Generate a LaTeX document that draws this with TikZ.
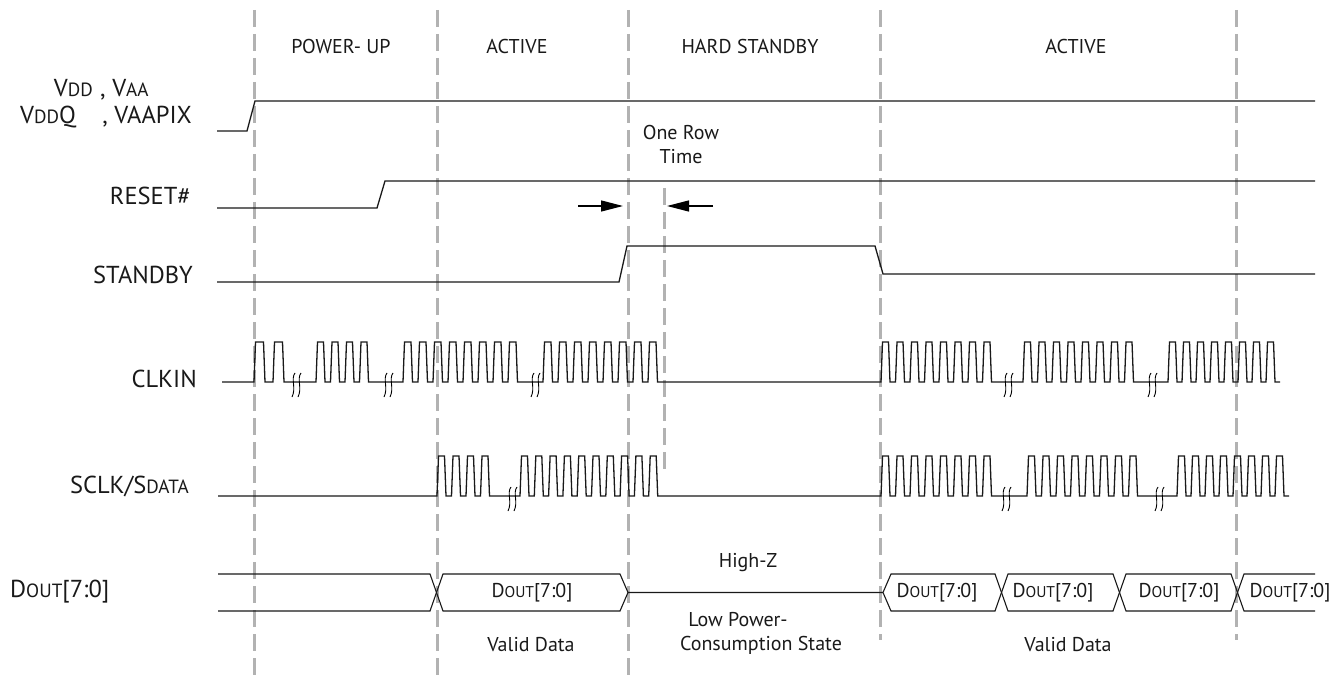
\documentclass[tikz,border=0pt]{standalone}
\usepackage{fontspec}
\setmainfont{PT Sans}
\usepackage{graphicx}
\usetikzlibrary{arrows.meta}
\newcommand\smc[1]{\scalebox{0.78}{#1}}
\newcommand\brkmark[2]{%
  \foreach \dx in {-3,3}{%
    \draw[line width=0.9pt] ({#1+\dx+2},{#2-9}) .. controls ({#1+\dx-2.5},{#2-3}) and ({#1+\dx+3.5},{#2+6}) .. ({#1+\dx-1},{#2+15});
  }}
\tikzset{
  sig/.style={line width=1.3pt, black!90, line join=miter},
  phase/.style={draw=black!30, line width=3pt, dash pattern=on 17pt off 7pt},
  lbl/.style={font=\fontsize{24.5}{28}\selectfont, inner sep=0pt, text=black!90},
  txt/.style={font=\fontsize{20}{24}\selectfont, inner sep=0pt, text=black!90},
  arr/.style={line width=1.3pt, -{Triangle[length=22pt,width=11pt]}}
}
\begin{document}
\begin{tikzpicture}[x=1pt,y=-1pt]
\useasboundingbox (0,0) rectangle (1341,679);
% phase boundaries
\draw[phase] (254,10) -- (254,679);
\draw[phase] (437,10) -- (437,679);
\draw[phase] (628,10) -- (628,679);
\draw[phase] (880,10) -- (880,640);
\draw[phase] (1236,10) -- (1236,640);
\draw[phase] (664,188) -- (664,470);
% phase labels
\node[txt] (p1) at (341,47) {POWER- UP};
\node[txt] (p2) at (517,47) {ACTIVE};
\node[txt] (p3) at (750,47) {HARD STANDBY};
\node[txt] (p4) at (1076,47) {ACTIVE};
% signal labels
\node[lbl, anchor=base east] (l1a) at (93,97) {V\smc{DD}};
\node[lbl, anchor=base west] (l1b) at (100,97) {, V\smc{AA}};
\node[lbl, anchor=base east] (l2a) at (76,124) {V\smc{DD}Q};
\node[lbl, anchor=base east] (l2b) at (192,124) {, VAAPIX};
\node[lbl, anchor=east] (l3) at (191,196) {RESET\#};
\node[lbl, anchor=east] (l4) at (193,275) {STANDBY};
\node[lbl, anchor=east] (l5) at (197,379) {CLKIN};
\node[lbl, anchor=east] (l6) at (189,486) {SCLK/S\smc{DATA}};
\node[lbl, anchor=west] (l7) at (10,592) {D\smc{OUT}[7:0]};
% VDD
\draw[sig] (217,131) -- (247,131) -- (255,101) -- (1315,101);
% RESET
\draw[sig] (217,208) -- (377,208) -- (385,181) -- (1315,181);
% STANDBY
\draw[sig] (217,282) -- (619,282) -- (627,246) -- (875,246) -- (883,274) -- (1315,274);
% One Row Time
\node[txt, align=center] (ort) at (681,145) {One Row\\Time};
\coordinate (ra) at (578,206);
\coordinate (rb) at (623,206);
\coordinate (la) at (713,206);
\coordinate (lb) at (667,206);
\draw[arr] (ra) -- (rb);
\draw[arr] (la) -- (lb);
% CLKIN
\draw[sig] (222,382) -- (254,382)
  \foreach \i in {1,2}{ -- ++(1.5,-40) -- ++(8,0) -- ++(1.5,40) -- ++(8,0)}
  -- (316,382)
  \foreach \i in {1,...,4}{ -- ++(1.5,-40) -- ++(6,0) -- ++(1.5,40) -- ++(5.5,0)}
  -- (403,382)
  \foreach \i in {1,...,8}{ -- ++(1.5,-40) -- ++(6.5,0) -- ++(1.5,40) -- ++(5.5,0)}
  -- (543,382)
  \foreach \i in {1,...,8}{ -- ++(1.5,-40) -- ++(6.5,0) -- ++(1.5,40) -- ++(5.5,0)}
  -- (881,382)
  \foreach \i in {1,...,8}{ -- ++(1.5,-40) -- ++(6,0) -- ++(1.5,40) -- ++(5.5,0)}
  -- (1023,382)
  \foreach \i in {1,...,8}{ -- ++(1.5,-40) -- ++(6,0) -- ++(1.5,40) -- ++(5.5,0)}
  -- (1168,382)
  \foreach \i in {1,...,8}{ -- ++(1.5,-40) -- ++(6,0) -- ++(1.5,40) -- ++(5,0)};
\brkmark{296}{382}
\brkmark{388}{382}
\brkmark{535}{382}
\brkmark{1008}{382}
\brkmark{1152}{382}
% SCLK/SDATA
\draw[sig] (218,496) -- (437,496)
  \foreach \i in {1,...,4}{ -- ++(1.5,-40) -- ++(6,0) -- ++(1.5,40) -- ++(5.5,0)}
  -- (520,496)
  \foreach \i in {1,...,10}{ -- ++(1.5,-40) -- ++(6,0) -- ++(1.5,40) -- ++(5.3,0)}
  -- (881,496)
  \foreach \i in {1,...,8}{ -- ++(1.5,-40) -- ++(6,0) -- ++(1.5,40) -- ++(5.5,0)}
  -- (1027,496)
  \foreach \i in {1,...,8}{ -- ++(1.5,-40) -- ++(6,0) -- ++(1.5,40) -- ++(5.5,0)}
  -- (1177,496)
  \foreach \i in {1,...,8}{ -- ++(1.5,-40) -- ++(6,0) -- ++(1.5,40) -- ++(5,0)};
\brkmark{512}{496}
\brkmark{1006}{496}
\brkmark{1159}{496}
% DOUT bus
\draw[sig, line width=1.1pt] (218,574) -- (430,574) -- (443,611) -- (620,611) -- (628,592.5);
\draw[sig, line width=1.1pt] (218,611) -- (430,611) -- (443,574) -- (620,574) -- (628,592.5) -- (883,592.5);
\draw[sig, line width=1.1pt] (883,592.5) -- (891,574) -- (995,574) -- (1008,611) -- (1113,611) -- (1126,574) -- (1231,574) -- (1244,611) -- (1315,611);
\draw[sig, line width=1.1pt] (883,592.5) -- (891,611) -- (995,611) -- (1008,574) -- (1113,574) -- (1126,611) -- (1231,611) -- (1244,574) -- (1315,574);
\node[txt] (d1) at (532,593) {D\smc{OUT}[7:0]};
\node[txt] (d2) at (937,593) {D\smc{OUT}[7:0]};
\node[txt] (d3) at (1053,593) {D\smc{OUT}[7:0]};
\node[txt] (d4) at (1179,593) {D\smc{OUT}[7:0]};
\node[txt] (d5) at (1290,593) {D\smc{OUT}[7:0]};
\node[txt] (hz) at (748,563) {High-Z};
\node[txt] (lp1) at (738,620) {Low Power-};
\node[txt] (lp2) at (761,645) {Consumption State};
\node[txt] (vd1) at (531,645) {Valid Data};
\node[txt] (vd2) at (1068,645) {Valid Data};
\end{tikzpicture}
\end{document}
